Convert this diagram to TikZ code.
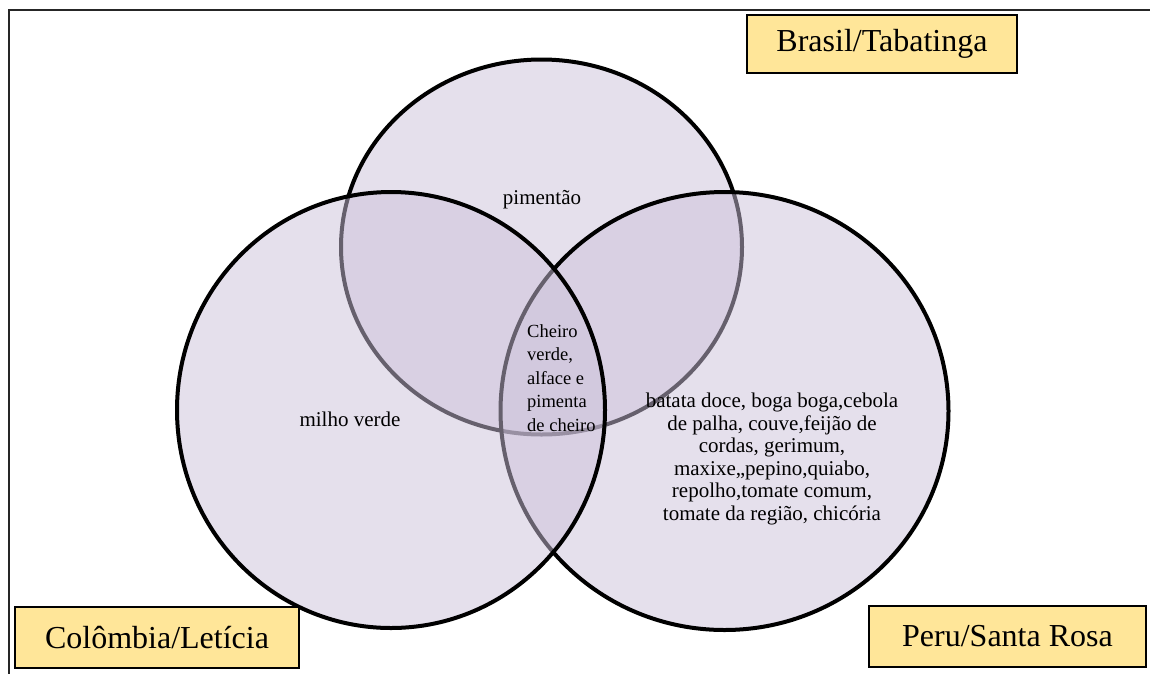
\documentclass[tikz,border=0pt]{standalone}
\usepackage{fontspec}
\setmainfont{Liberation Serif}
\definecolor{lilac}{HTML}{CCC1DA}
\definecolor{sand}{HTML}{FFE699}
\tikzset{
  region/.style={fill=lilac,fill opacity=0.5,draw=black,line width=4},
  country/.style={draw=black,line width=2.5,fill=sand,inner sep=0,
    font=\fontsize{32}{38}\selectfont},
  crop/.style={inner sep=0,font=\fontsize{21}{22.5}\selectfont}
}
\begin{document}
\begin{tikzpicture}[x=1pt,y=-1pt]
        \useasboundingbox (0,0) rectangle (1150,673);
        \clip (0,0) rectangle (1150,673);
        % outer frame
        \draw[black!85,line width=2] (9,10) rectangle (1200,700);
        % the three sets
        \draw[region] (541.5,247) ellipse [x radius=200.5, y radius=187.5];
        \draw[region] (724.5,411) ellipse [x radius=224, y radius=219];
        \draw[region] (391,410) ellipse [x radius=214, y radius=218];
        % what grows where
        \node[crop] (pimentao) at (542,200) {pimentão};
        \node[crop] (milho) at (350,419) {milho verde};
        \node[crop,align=center] (lista) at (772,459) {batata doce, boga boga,cebola\\de palha, couve,feijão de\\cordas, gerimum,\\maxixe,,pepino,quiabo,\\repolho,tomate comum,\\tomate da região, chicória};
        \node[crop,align=left,anchor=west,font=\fontsize{18.5}{23.5}\selectfont] (comum) at (527,378) {Cheiro\\verde,\\alface e\\pimenta\\de cheiro};
        % labels
        \node[country,minimum width=270,minimum height=58] (brasil) at (882,44) {Brasil/Tabatinga};
        \node[country,minimum width=284,minimum height=61] (colombia) at (157,637.5) {Colômbia/Letícia};
        \node[country,minimum width=277,minimum height=61] (peru) at (1007.5,636.5) {Peru/Santa Rosa};
    \end{tikzpicture}
\end{document}
